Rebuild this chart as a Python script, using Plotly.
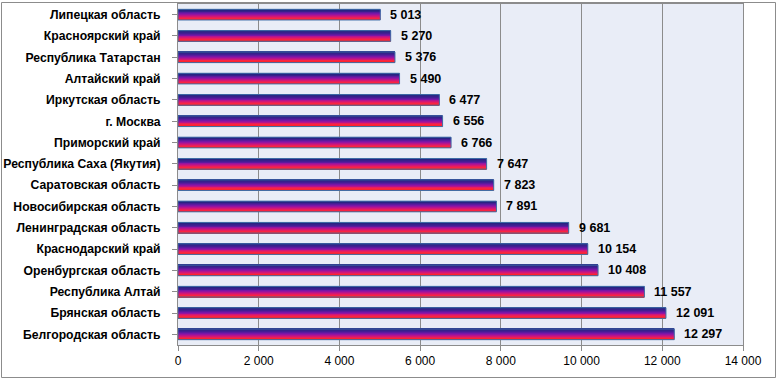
import plotly.graph_objects as go

# Data (bottom to top)
regions = [
    "Белгородская область",
    "Брянская область",
    "Республика Алтай",
    "Оренбургская область",
    "Краснодарский край",
    "Ленинградская область",
    "Новосибирская область",
    "Саратовская область",
    "Республика Саха (Якутия)",
    "Приморский край",
    "г. Москва",
    "Иркутская область",
    "Алтайский край",
    "Республика Татарстан",
    "Красноярский край",
    "Липецкая область",
]
values = [12297, 12091, 11557, 10408, 10154, 9681, 7891, 7823, 7647, 6766, 6556, 6477, 5490, 5376, 5270, 5013]
x_ticks = [0, 2000, 4000, 6000, 8000, 10000, 12000, 14000]


def fmt(v):
    return f"{v:,}".replace(",", " ")


W, H = 777, 380
ml, mr, mt, mb = 178, 34, 4, 35
pw, ph = W - ml - mr, H - mt - mb

fig = go.Figure()

# gradient emulation: stripes from red (bottom) to navy (top)
stops = [(255, 35, 25), (250, 35, 70), (200, 20, 130), (130, 20, 170), (70, 30, 150), (40, 35, 130)]
N = 12
bw = 0.5
step = bw / N


def interp(t):
    seg = t * (len(stops) - 1)
    i = min(int(seg), len(stops) - 2)
    f = seg - i
    a, b = stops[i], stops[i + 1]
    return "rgb(%d,%d,%d)" % tuple(round(a[k] + (b[k] - a[k]) * f) for k in range(3))


idx = list(range(len(regions)))
for i in range(N):
    t = i / (N - 1)
    fig.add_trace(go.Bar(
        y=idx, x=values, orientation="h",
        width=step * 1.15, offset=-bw / 2 + i * step,
        marker=dict(color=interp(t), line=dict(width=0)),
        hoverinfo="skip", showlegend=False,
    ))

# outline
fig.add_trace(go.Bar(
    y=idx, x=values, orientation="h",
    width=bw, offset=-bw / 2,
    marker=dict(color="rgba(0,0,0,0)", line=dict(color="#3F6FA8", width=1)),
    showlegend=False,
))

for i, v in zip(idx, values):
    fig.add_annotation(
        x=v, y=i, text="<b>" + fmt(v) + "</b>", showarrow=False,
        xanchor="left", yanchor="middle", xshift=8,
        font=dict(family="Liberation Sans, Arial, sans-serif", size=12.5, color="black"),
    )

# outer chart border
fig.add_shape(
    type="rect", xref="paper", yref="paper",
    x0=(1.5 - ml) / pw, x1=(775.5 - ml) / pw,
    y0=1 - (377.5 - mt) / ph, y1=1 - (2.5 - mt) / ph,
    line=dict(color="#8C8C8C", width=1), fillcolor="rgba(0,0,0,0)", layer="above",
)

fig.update_layout(
    width=W, height=H,
    margin=dict(l=ml, r=mr, t=mt, b=mb, autoexpand=False),
    barmode="overlay",
    paper_bgcolor="white",
    plot_bgcolor="#E9EDF7",
    font=dict(family="Liberation Sans, Arial, sans-serif", size=12, color="black"),
    xaxis=dict(
        range=[0, 14000], tickvals=x_ticks, ticktext=[fmt(v) for v in x_ticks],
        showgrid=True, gridcolor="#8C8C8C", gridwidth=1,
        showline=True, linecolor="#8C8C8C", linewidth=1, mirror=True,
        ticks="outside", ticklen=5, tickcolor="#8C8C8C",
        tickfont=dict(size=12),
        zeroline=False, fixedrange=True, automargin=False,
    ),
    yaxis=dict(
        range=[-0.5, len(regions) - 0.5],
        tickvals=idx, ticktext=["<b>" + r + "</b>" for r in regions],
        tickson="boundaries",
        showgrid=False,
        showline=True, linecolor="#8C8C8C", linewidth=1, mirror=True,
        ticks="outside", ticklen=5, tickcolor="#8C8C8C",
        ticklabelstandoff=9,
        tickfont=dict(size=12.2),
        zeroline=False, fixedrange=True, automargin=False,
    ),
)

fig.write_html("out.html", config={"displayModeBar": False},
               post_script="document.body.style.margin='0';")
